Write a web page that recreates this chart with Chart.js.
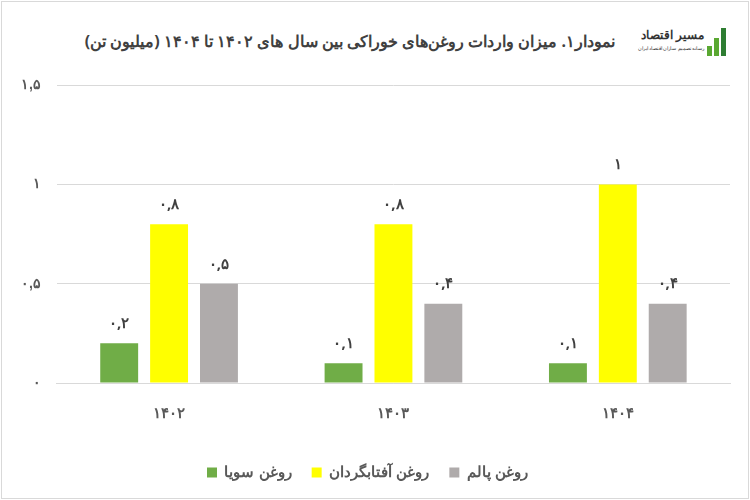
<!DOCTYPE html>
<html><head><meta charset="utf-8">
<script src="https://cdn.jsdelivr.net/npm/chart.js"></script>
<style>
body{margin:0;background:#fff;width:750px;height:500px;overflow:hidden;font-family:"Noto Sans",sans-serif}
#frame{position:absolute;left:1px;top:1px;width:746px;height:496px;border:1px solid #d9d9d9}
#title{position:absolute;right:135px;top:30px;font-size:16px;font-weight:bold;color:#404040;direction:rtl;white-space:nowrap}
#logo{position:absolute;right:18px;top:20px;width:95px;height:40px;direction:rtl}
#logo .t{position:absolute;right:28px;top:6px;font-size:12px;font-weight:bold;color:#333}
#logo .s{position:absolute;right:28px;top:25px;font-size:5px;color:#333;white-space:nowrap}
#logo .b{position:absolute;bottom:4px;width:5px;background:#5aa832}
#cw{position:absolute;left:0;top:61px;width:745px;height:433px}
</style></head><body>
<div id="frame"></div>
<div id="title">نمودار۱. میزان واردات روغن‌های خوراکی بین سال های ۱۴۰۲ تا ۱۴۰۴ (میلیون تن)</div>
<div id="logo"><span class="t">مسیر اقتصاد</span><span class="s">رسانه تصمیم سازان اقتصاد ایران</span>
<div class="b" style="right:20px;height:10px"></div><div class="b" style="right:13px;height:18px"></div><div class="b" style="right:6px;height:28px;background:#2e7d32"></div></div>
<div id="cw"><canvas id="c"></canvas></div>
<script>
const categories=["۱۴۰۲","۱۴۰۳","۱۴۰۴"];
const seriesNames=["روغن سویا","روغن آفتابگردان","روغن پالم"];
const soya=[0.2,0.1,0.1];
const sunflower=[0.8,0.8,1.0];
const palm=[0.5,0.4,0.4];
const colors=["#70ad47","#ffff00","#afabab"];
const fa=v=>{let s=String(Math.round(v*10)/10).replace('.',',');return s.replace(/\d/g,d=>"۰۱۲۳۴۵۶۷۸۹"[d]);};
const labelPlugin={id:'lbl',afterDatasetsDraw(ch){const ctx=ch.ctx;ctx.save();ctx.font='bold 15px "Noto Sans"';ctx.fillStyle='#404040';ctx.textAlign='center';ctx.textBaseline='bottom';
ch.data.datasets.forEach((ds,i)=>{ch.getDatasetMeta(i).data.forEach((b,j)=>{ctx.fillText(fa(ds.data[j]),b.x,b.y-12);});});ctx.restore();}};
new Chart(document.getElementById('c'),{type:'bar',
data:{labels:categories,datasets:[soya,sunflower,palm].map((d,i)=>({label:seriesNames[i],data:d,backgroundColor:colors[i],categoryPercentage:0.667,barPercentage:0.76}))},
options:{responsive:true,maintainAspectRatio:false,animation:false,
layout:{padding:{left:5,right:15,top:3,bottom:4}},
scales:{y:{min:0,max:1.5,ticks:{stepSize:0.5,callback:v=>fa(v),color:'#595959',font:{size:14,weight:'bold'},padding:16},grid:{color:'#d9d9d9',drawTicks:false},border:{display:false}},
x:{ticks:{color:'#595959',font:{size:15,weight:'bold'},padding:22},grid:{display:false,drawTicks:false},border:{color:'#d9d9d9'}}},
plugins:{legend:{position:'bottom',labels:{boxWidth:10,boxHeight:10,color:'#595959',font:{size:15,weight:'bold'},padding:20}},tooltip:{enabled:false}}},
plugins:[labelPlugin]});
</script></body></html>
